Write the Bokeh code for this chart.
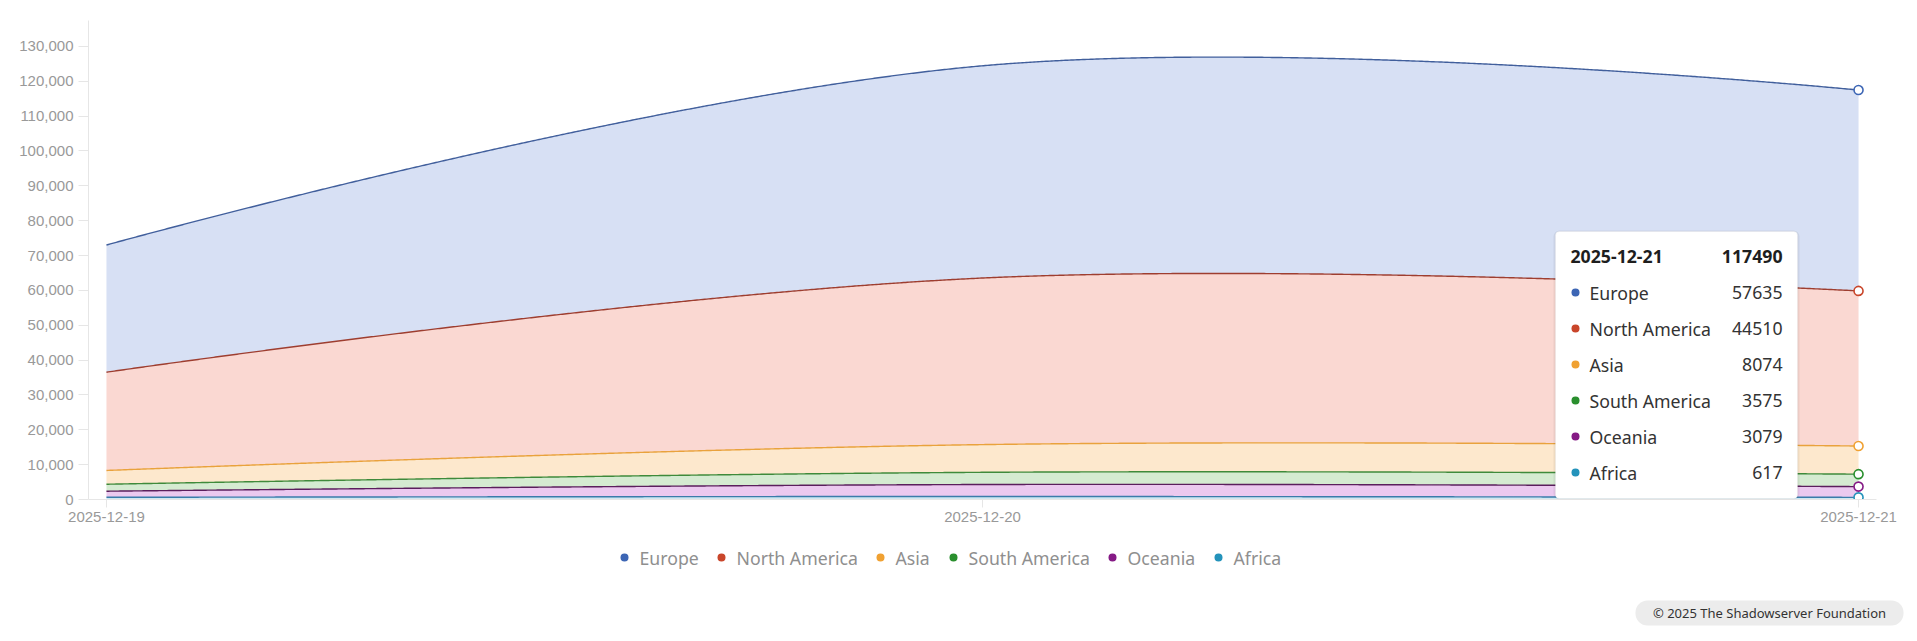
import numpy as np
from bokeh.plotting import figure
from bokeh.layouts import column
from bokeh.models import Range1d, FixedTicker, NumeralTickFormatter, Label, BoxAnnotation
from bokeh.core.properties import value
from bokeh.embed import file_html
from bokeh.resources import INLINE

# ---------------- data ----------------
dates = ["2025-12-19", "2025-12-20", "2025-12-21"]
series_names = ["Europe", "North America", "Asia", "South America", "Oceania", "Africa"]
europe = [36500, 60900, 57635]
north_america = [28200, 47800, 44510]
asia = [3950, 7950, 8074]
south_america = [2000, 3500, 3575]
oceania = [1750, 3440, 3079]
africa = [630, 860, 617]
y_ticks = list(range(0, 130001, 10000))
credit = "© 2025 The Shadowserver Foundation"

series_values = [europe, north_america, asia, south_america, oceania, africa]
dot_colors = ["#3d66b5", "#c9462b", "#f0a132", "#2a8f2e", "#851a85", "#2493bb"]
line_colors = ["#415f9c", "#9e3e30", "#e9a23d", "#3f8a3b", "#5b1e5d", "#3a7caa"]
fill_colors = ["#d7e0f4", "#fad8d2", "#fde8cd", "#d5ebd1", "#ebc9ef", "#cfe8f2"]

# ---------------- geometry ----------------
W = 1917
H_TOP, H_BOT = 530, 111
FL, FR, FT, FB = 88, 1876, 20, 499  # frame edges on canvas
x0, x1 = -0.0205, 2.0205
ymax = 137446
kx = (FR - FL) / (x1 - x0)
ky = (FB - FT) / ymax
SMOOTH = 0.38
FONT = "Noto Sans"
FS = "17.7px"

xs_idx = list(range(len(dates)))


def smooth_path(xv, yv, smooth=SMOOTH, n=200):
    """Bezier smoothing in screen-proportional space."""
    P = [(x * kx, y * ky) for x, y in zip(xv, yv)]
    out_x, out_y = [P[0][0]], [P[0][1]]
    cp0 = P[0]
    for i in range(1, len(P)):
        prev, cur = P[i - 1], P[i]
        if i == len(P) - 1:
            ncp0 = cur
            cp1 = cur
        else:
            nxt = P[i + 1]
            vx, vy = nxt[0] - prev[0], nxt[1] - prev[1]
            l0 = np.hypot(cur[0] - prev[0], cur[1] - prev[1])
            l1 = np.hypot(nxt[0] - cur[0], nxt[1] - cur[1])
            r = l1 / (l0 + l1)
            ncp0 = (cur[0] - vx * smooth * (1 - r), cur[1] - vy * smooth * (1 - r))
            cp1 = (cur[0] + vx * smooth * r, cur[1] + vy * smooth * r)
        t = np.linspace(0, 1, n)[1:]
        a, b, c, d = (1 - t) ** 3, 3 * (1 - t) ** 2 * t, 3 * (1 - t) * t ** 2, t ** 3
        bx = a * prev[0] + b * cp0[0] + c * ncp0[0] + d * cur[0]
        by = a * prev[1] + b * cp0[1] + c * ncp0[1] + d * cur[1]
        out_x.extend(bx)
        out_y.extend(by)
        cp0 = cp1
    return np.array(out_x) / kx, np.array(out_y) / ky


p = figure(width=W, height=H_TOP, output_backend="svg", toolbar_location=None,
           x_range=Range1d(x0, x1), y_range=Range1d(0, ymax),
           min_border_left=FL, min_border_right=W - FR,
           min_border_top=FT, min_border_bottom=H_TOP - FB)
p.outline_line_color = None
p.xgrid.visible = False
p.ygrid.visible = False
p.background_fill_color = "white"
p.border_fill_color = "white"
p.frame_align = False

# stacked tops, bottom-up: Africa, Oceania, South America, Asia, North America, Europe
order = list(range(len(series_names)))[::-1]
grid = np.linspace(0, len(dates) - 1, 900)
cum = np.zeros(len(dates))
lower = np.zeros_like(grid)
tops = {}
for i in order:
    cum = cum + np.array(series_values[i], dtype=float)
    sx_, sy_ = smooth_path(xs_idx, cum)
    top = np.interp(grid, sx_, sy_)
    p.varea(x=grid, y1=lower, y2=top, fill_color=fill_colors[i], fill_alpha=1.0)
    tops[i] = (top, cum.copy())
    lower = top

for i in order:
    top, c = tops[i]
    p.line(grid, top, line_color=line_colors[i], line_width=1.4)

# hover markers at the last date
for i in order:
    top, c = tops[i]
    p.scatter([xs_idx[-1]], [c[-1]], size=9, marker="circle", fill_color="white",
              line_color=dot_colors[i], line_width=1.6)

# ---------------- axes ----------------
ax = p.yaxis[0]
ax.ticker = FixedTicker(ticks=y_ticks)
ax.formatter = NumeralTickFormatter(format="0,0")
ax.axis_line_color = "#e6e6e6"
ax.major_tick_line_color = "#e6e6e6"
ax.major_tick_out = 10
ax.major_tick_in = 0
ax.minor_tick_line_color = None
ax.major_label_text_color = "#999999"
ax.major_label_text_font = "Liberation Sans"
ax.major_label_text_font_size = "15px"
ax.major_label_standoff = 5

bx = p.xaxis[0]
bx.ticker = FixedTicker(ticks=xs_idx)
bx.major_label_overrides = {i: d for i, d in zip(xs_idx, dates)}
bx.axis_line_color = "#e6e6e6"
bx.major_tick_line_color = "#e6e6e6"
bx.major_tick_out = 8
bx.major_tick_in = 0
bx.minor_tick_line_color = None
bx.major_label_text_color = "#999999"
bx.major_label_text_font = "Liberation Sans"
bx.major_label_text_font_size = "15px"
bx.major_label_standoff = 4


# ---------------- screen helpers (frame-relative, y up) ----------------
def SX(cx):
    return cx - FL


def SY(cy):
    return FB - cy


def box(l, r, t, b, **kw):
    return BoxAnnotation(left=SX(l), right=SX(r), top=SY(t), bottom=SY(b),
                         left_units="screen", right_units="screen",
                         top_units="screen", bottom_units="screen",
                         level="overlay", **kw)


# ---------------- tooltip ----------------
tl, tr, tt, tb = 1555, 1797, 231, 498
p.add_layout(box(tl - 2, tr + 2, tt - 1, tb + 1, fill_color="#000000", fill_alpha=0.06,
                 line_color=None, border_radius=6))
p.add_layout(box(tl, tr, tt, tb, fill_color="white", fill_alpha=1.0,
                 line_color="#e2e2e2", line_width=1, border_radius=4))
last = len(dates) - 1
total = sum(v[last] for v in series_values)
p.add_layout(Label(x=SX(1570), y=SY(256), x_units="screen", y_units="screen",
                   text=dates[last], text_font=FONT, text_font_size=FS,
                   text_font_style="bold", text_color="#1e1e1e",
                   text_baseline="middle", text_align="left", level="overlay"))
p.add_layout(Label(x=SX(1782), y=SY(256), x_units="screen", y_units="screen",
                   text=str(total), text_font=FONT, text_font_size=FS,
                   text_font_style="bold", text_color="#1e1e1e",
                   text_baseline="middle", text_align="right", level="overlay"))
for k, (name, vals) in enumerate(zip(series_names, series_values)):
    cy = 292 + 36 * k
    p.add_layout(box(1571, 1579, cy - 4, cy + 4, fill_color=dot_colors[k],
                     fill_alpha=1.0, line_color=None, border_radius=4))
    p.add_layout(Label(x=SX(1589), y=SY(cy), x_units="screen", y_units="screen",
                       text=name, text_font=FONT, text_font_size=FS,
                       text_color="#333333", text_baseline="middle",
                       text_align="left", level="overlay"))
    p.add_layout(Label(x=SX(1782), y=SY(cy), x_units="screen", y_units="screen",
                       text=str(vals[last]), text_font=FONT, text_font_size=FS,
                       text_color="#333333", text_baseline="middle",
                       text_align="right", level="overlay"))

# ---------------- lower strip: legend + credit ----------------
p2 = figure(width=W, height=H_BOT, output_backend="svg", toolbar_location=None,
            x_range=Range1d(0, W), y_range=Range1d(H_BOT, 0),
            x_axis_type=None, y_axis_type=None, min_border=0)
p2.outline_line_color = None
p2.xgrid.visible = False
p2.ygrid.visible = False
p2.background_fill_color = "white"
p2.border_fill_color = "white"
p2.frame_align = False

leg_dots = [624, 721, 880, 953, 1112, 1218]
leg_y = 557 - H_TOP
p2.scatter(x=leg_dots, y=[leg_y] * len(leg_dots), size=8, marker="circle",
           fill_color=dot_colors, line_color=None)
p2.text(x=[d + 15 for d in leg_dots], y=[leg_y] * len(leg_dots), text=series_names,
        text_font=value(FONT), text_font_size=FS, text_color="#8f8f8f",
        text_baseline="middle", text_align="left")

p2.quad(left=[1635], right=[1903], top=[600 - H_TOP], bottom=[625 - H_TOP],
        fill_color="#ececec", line_color=None, border_radius=12)
p2.text(x=[1769], y=[612.5 - H_TOP], text=[credit], text_font=value(FONT),
        text_font_size="13px", text_color="#333333", text_baseline="middle",
        text_align="center")

layout = column(p, p2, spacing=0)
open("out.html", "w").write(file_html(layout, INLINE))
